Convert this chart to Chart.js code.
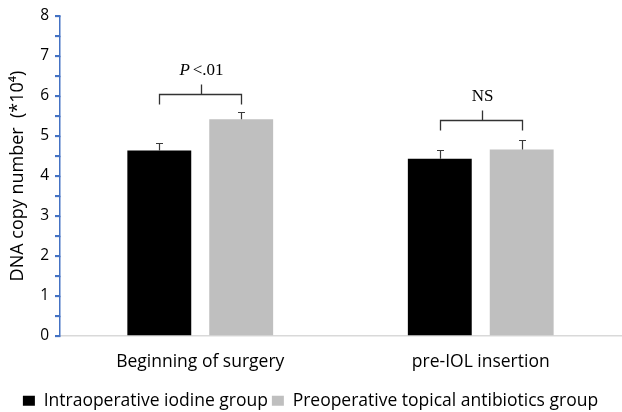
<!DOCTYPE html>
<html>
<head>
<meta charset="utf-8">
<script src="https://cdn.jsdelivr.net/npm/chart.js@4/dist/chart.umd.min.js"></script>
<style>
  html, body { margin: 0; padding: 0; background: #fff; }
  #wrap { width: 622px; height: 412px; position: relative; }
</style>
</head>
<body>
<div id="wrap"><canvas id="chart" width="622" height="412"></canvas></div>
<script>
// Sampling time points
const categories = ['Beginning of surgery', 'pre-IOL insertion'];

// Mean DNA copy number (x10^4) and error (SE) per group
const iodineMeans = [4.64, 4.43];
const iodineErrors = [0.18, 0.22];
const antibioticMeans = [5.42, 4.66];
const antibioticErrors = [0.18, 0.23];

// Y axis ticks
const yTicks = [0, 1, 2, 3, 4, 5, 6, 7, 8];

// Significance annotations between the two groups
const sigLabels = ['P<.01', 'NS'];
const sigLevels = [6.04, 5.41];

const FONT = '"Open Sans", Lato, sans-serif';
const AXIS_BLUE = '#4472c4';

// Draws y tick marks, error bars and significance brackets
const overlayPlugin = {
  id: 'overlay',
  afterDraw(chart) {
    const ctx = chart.ctx;
    const y = chart.scales.y;
    ctx.save();
    // y-axis tick marks at whole and half steps
    ctx.strokeStyle = AXIS_BLUE;
    ctx.lineWidth = 1.3;
    const ax = y.right;
    y.ticks.forEach(t => {
      const py = Math.round(y.getPixelForValue(t.value)) + 0.5;
      ctx.beginPath();
      ctx.moveTo(ax - 5, py);
      ctx.lineTo(ax + 0.5, py);
      ctx.stroke();
    });

    // error bars
    const errs = [iodineErrors, antibioticErrors];
    const means = [iodineMeans, antibioticMeans];
    ctx.strokeStyle = '#3a3a3a';
    ctx.lineWidth = 1.2;
    for (let d = 0; d < 2; d++) {
      chart.getDatasetMeta(d).data.forEach((bar, i) => {
        const top = y.getPixelForValue(means[d][i]);
        const cap = Math.round(y.getPixelForValue(means[d][i] + errs[d][i])) + 0.5;
        const bx = Math.round(bar.x) + 0.5;
        ctx.beginPath();
        ctx.moveTo(bx, top);
        ctx.lineTo(bx, cap);
        ctx.moveTo(bx - 3.5, cap);
        ctx.lineTo(bx + 3.5, cap);
        ctx.stroke();
      });
    }

    // significance brackets
    ctx.strokeStyle = '#333';
    ctx.lineWidth = 1.3;
    const m0 = chart.getDatasetMeta(0).data;
    const m1 = chart.getDatasetMeta(1).data;
    sigLevels.forEach((lvl, i) => {
      const x1 = Math.round(m0[i].x) + 0.5, x2 = Math.round(m1[i].x) + 0.5;
      const py = Math.round(y.getPixelForValue(lvl)) + 0.5;
      const xm = Math.round((x1 + x2) / 2) + 0.5;
      ctx.beginPath();
      ctx.moveTo(x1, py + 10);
      ctx.lineTo(x1, py);
      ctx.lineTo(x2, py);
      ctx.lineTo(x2, py + 10);
      ctx.moveTo(xm, py);
      ctx.lineTo(xm, py - 10);
      ctx.stroke();

      const ty = py - 10 - 14;
      ctx.fillStyle = '#000';
      ctx.textBaseline = 'middle';
      const label = sigLabels[i];
      if (label.startsWith('P')) {
        const rest = label.slice(1);
        ctx.font = 'italic 17px "Liberation Serif", serif';
        const wP = ctx.measureText('P').width;
        ctx.font = '17px "Liberation Serif", serif';
        const wR = ctx.measureText(rest).width;
        const sx = xm - (wP + wR + 3) / 2;
        ctx.textAlign = 'left';
        ctx.font = 'italic 17px "Liberation Serif", serif';
        ctx.fillText('P', sx, ty);
        ctx.font = '17px "Liberation Serif", serif';
        ctx.fillText(rest, sx + wP + 3, ty);
      } else {
        ctx.textAlign = 'center';
        ctx.font = '17px "Liberation Serif", serif';
        ctx.fillText(label, xm, ty);
      }
    });
    ctx.restore();
  }
};

new Chart(document.getElementById('chart'), {
  type: 'bar',
  data: {
    labels: categories,
    datasets: [
      {
        label: 'Intraoperative iodine group',
        data: iodineMeans,
        backgroundColor: '#000000',
        borderWidth: 0
      },
      {
        label: 'Preoperative topical antibiotics group',
        data: antibioticMeans,
        backgroundColor: '#bfbfbf',
        borderWidth: 0
      }
    ]
  },
  options: {
    responsive: false,
    animation: false,
    devicePixelRatio: 1,
    layout: { padding: { top: 16, right: 1, left: 0, bottom: -7.5 } },
    categoryPercentage: 0.584,
    barPercentage: 0.78,
    plugins: {
      tooltip: { enabled: false },
      legend: {
        position: 'bottom',
        labels: {
          color: '#000',
          font: { family: FONT, size: 17.5 },
          boxWidth: 12,
          boxHeight: 10,
          padding: 4
        }
      }
    },
    scales: {
      x: {
        grid: { display: false, drawTicks: false },
        border: { color: '#d9d9d9', width: 1.5 },
        ticks: { color: '#000', font: { family: FONT, size: 17.5 }, padding: 16 },
        afterFit(scale) { scale.height = 52; }
      },
      y: {
        min: 0,
        max: 8,
        afterBuildTicks(scale) {
          const t = [];
          yTicks.forEach((v, i) => {
            t.push({ value: v });
            if (i < yTicks.length - 1) t.push({ value: (v + yTicks[i + 1]) / 2 });
          });
          scale.ticks = t;
        },
        ticks: {
          color: '#000',
          autoSkip: false,
          font: { family: FONT, size: 15.5 },
          padding: 6,
          callback: (v) => (Number.isInteger(v) ? String(v) : '')
        },
        grid: {
          drawOnChartArea: false,
          drawTicks: true,
          tickLength: 5,
          color: AXIS_BLUE,
          lineWidth: 1.3
        },
        border: { color: AXIS_BLUE, width: 1.5 },
        title: {
          display: true,
          text: 'DNA copy number  (*10\u2074)',
          color: '#000',
          font: { family: FONT, size: 18 },
          padding: { top: 7, bottom: 0 }
        },
        afterFit(scale) { scale.width = 60; }
      }
    }
  },
  plugins: [overlayPlugin]
});
</script>
</body>
</html>
